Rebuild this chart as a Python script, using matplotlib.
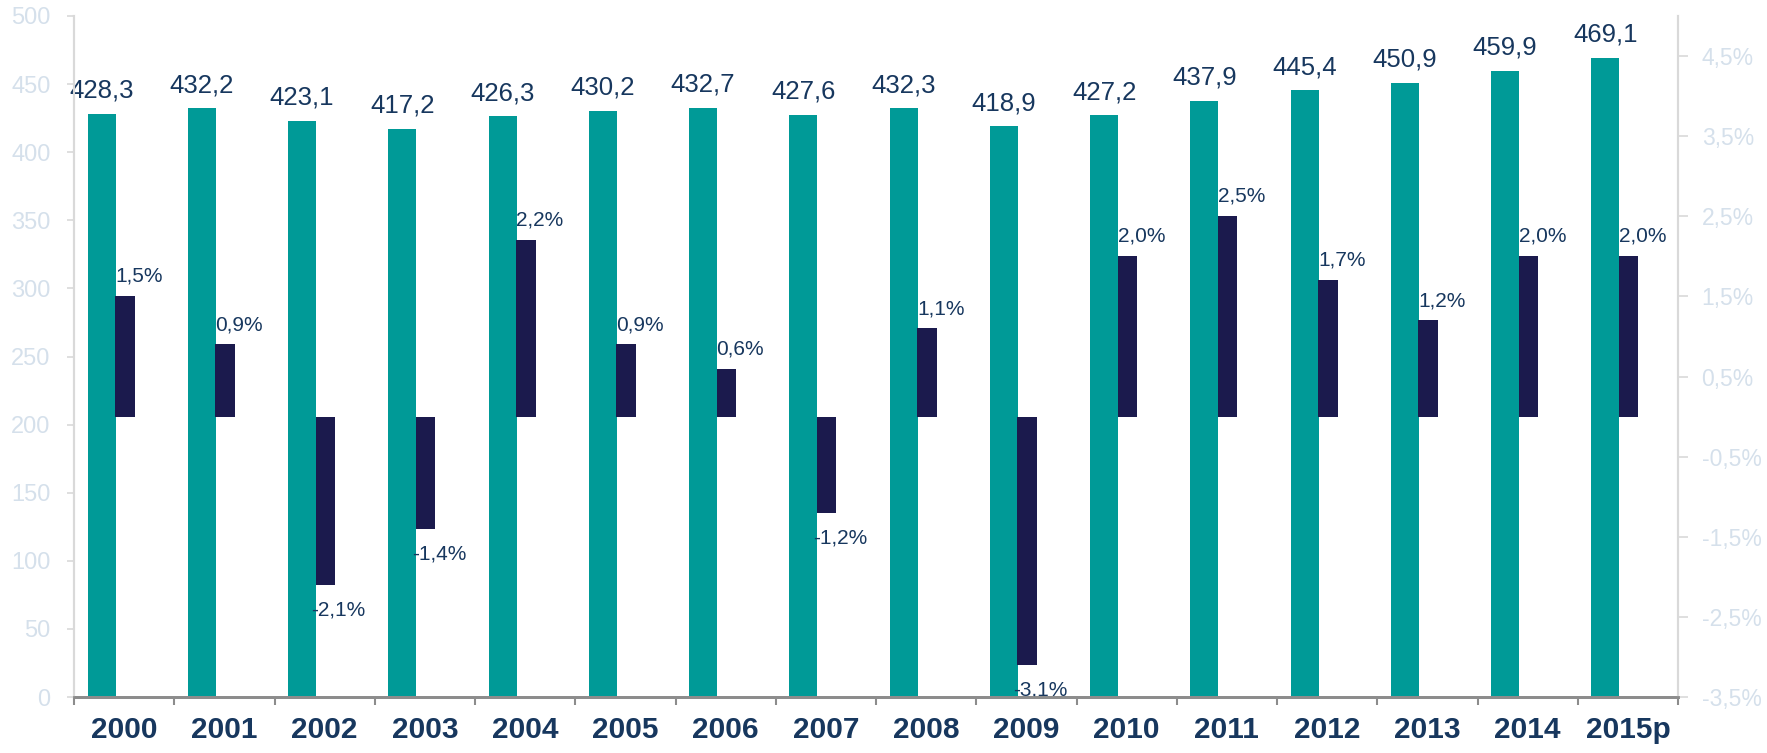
import matplotlib
matplotlib.use("Agg")
import matplotlib.pyplot as plt
import numpy as np
from matplotlib.ticker import FixedLocator, FuncFormatter

plt.rcParams['font.family'] = ['Liberation Sans', 'DejaVu Sans']

years = ["2000", "2001", "2002", "2003", "2004", "2005", "2006", "2007",
         "2008", "2009", "2010", "2011", "2012", "2013", "2014", "2015p"]
values = [428.3, 432.2, 423.1, 417.2, 426.3, 430.2, 432.7, 427.6,
          432.3, 418.9, 427.2, 437.9, 445.4, 450.9, 459.9, 469.1]
growth = [1.5, 0.9, -2.1, -1.4, 2.2, 0.9, 0.6, -1.2,
          1.1, -3.1, 2.0, 2.5, 1.7, 1.2, 2.0, 2.0]
left_ticks = [0, 50, 100, 150, 200, 250, 300, 350, 400, 450, 500]
right_ticks = [-3.5, -2.5, -1.5, -0.5, 0.5, 1.5, 2.5, 3.5, 4.5]

TEAL = "#009A97"
DARK = "#1B1A4D"
NAVY = "#17375E"
LIGHT = "#D5E0EB"
SPINE_LIGHT = "#D9D9D9"
SPINE_DARK = "#8C8C8C"

fig = plt.figure(figsize=(17.67, 7.53), dpi=100)
ax = fig.add_axes([74/1767, 1-697/753, (1678-74)/1767, (697-16)/753])
ax2 = ax.twinx()

x = np.arange(len(years))
tw = 0.28
dw = 0.195
tc = x + 0.135 + tw/2
dl = x + 0.41
dc = dl + dw/2

ax.bar(tc, values, width=tw, color=TEAL, zorder=2)
ax2.bar(dc, growth, width=dw, color=DARK, zorder=3)

ax.set_xlim(0, len(years))
ax.set_ylim(0, 500)
ax2.set_ylim(-3.5, 5.0)

# value labels
for xc, v in zip(tc, values):
    ax.annotate(f"{v:.1f}".replace(".", ","), (xc, v), xytext=(0, 8),
                textcoords="offset points", ha="center", va="bottom",
                fontsize=18.5, color=NAVY)
for xl, g in zip(dl, growth):
    if g >= 0:
        ax2.annotate(f"{g:.1f}%".replace(".", ","), (xl, g), xytext=(0, 7.5),
                     textcoords="offset points", ha="left", va="bottom",
                     fontsize=15, color=NAVY, clip_on=True, zorder=5)
    else:
        ax2.annotate(f"{g:.1f}%".replace(".", ","), (xl, g), xytext=(-3, -11),
                     textcoords="offset points", ha="left", va="top",
                     fontsize=15, color=NAVY, annotation_clip=True,
                     clip_on=True, zorder=5)

# x axis
ax.xaxis.set_major_locator(FixedLocator(np.arange(len(years) + 1)))
ax.xaxis.set_minor_locator(FixedLocator(x + 0.5))
ax.set_xticklabels([])
ax.set_xticklabels(years, minor=True)
ax.tick_params(axis="x", which="major", length=6, width=1.5, color=SPINE_DARK, direction="out")
ax.tick_params(axis="x", which="minor", length=0, pad=14, labelsize=21.5, labelcolor=NAVY)
for lbl in ax.get_xticklabels(minor=True):
    lbl.set_fontweight("bold")

# left y axis
ax.yaxis.set_major_locator(FixedLocator(left_ticks))
ax.tick_params(axis="y", length=5, width=1.2, color=SPINE_LIGHT, labelsize=17,
               labelcolor=LIGHT, pad=12)

# right y axis
ax2.yaxis.set_major_locator(FixedLocator(right_ticks))
ax2.yaxis.set_major_formatter(FuncFormatter(lambda v, p: f"{v:.1f}%".replace(".", ",")))
ax2.tick_params(axis="y", length=7, width=1.2, color=SPINE_LIGHT, labelsize=16.5,
                labelcolor=LIGHT, pad=10)

for a in (ax, ax2):
    a.spines["top"].set_visible(False)
    a.spines["left"].set_color(SPINE_LIGHT)
    a.spines["right"].set_color(SPINE_LIGHT)
    a.spines["left"].set_linewidth(1.5)
    a.spines["right"].set_linewidth(1.5)
    a.spines["bottom"].set_color(SPINE_DARK)
    a.spines["bottom"].set_linewidth(2)
ax2.spines["bottom"].set_zorder(10)

fig.savefig("out.png", dpi=100)
